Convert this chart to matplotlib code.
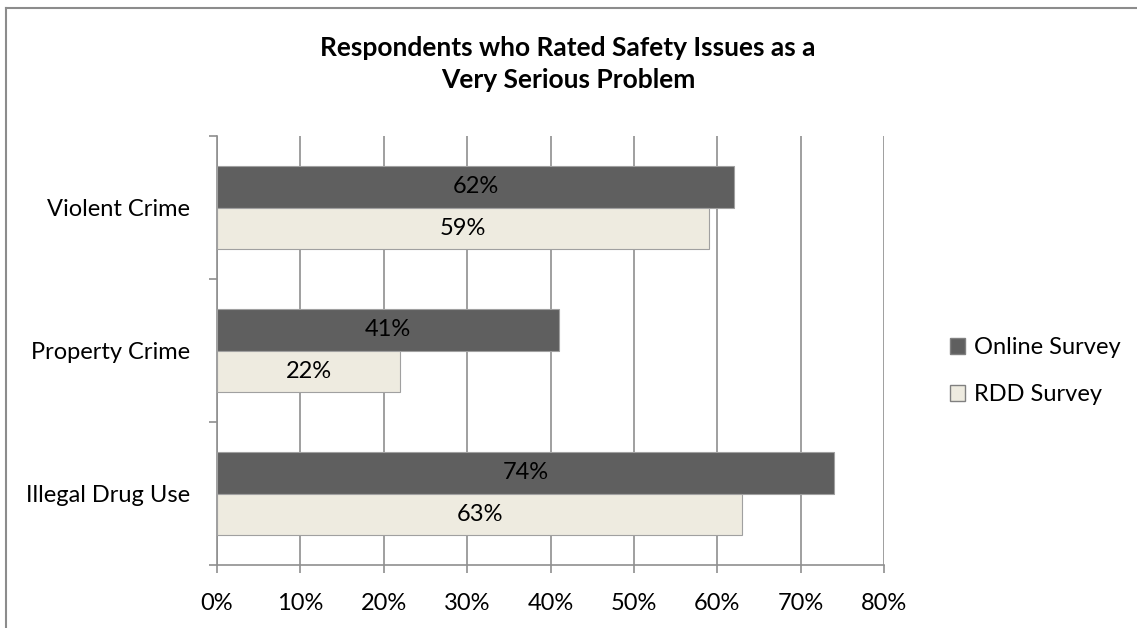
import matplotlib.pyplot as plt
import numpy as np
from matplotlib.patches import Patch

plt.rcParams['font.family'] = ['Lato', 'DejaVu Sans']

categories = ["Violent Crime", "Property Crime", "Illegal Drug Use"]
online = [62, 41, 74]
rdd = [59, 22, 63]
series_names = ["Online Survey", "RDD Survey"]
xticks = [0, 10, 20, 30, 40, 50, 60, 70, 80]

dark = "#5f5f5f"
light = "#eeebe0"
grid_gray = "#8f8f8f"
fs = 17

fig = plt.figure(figsize=(11.37, 6.28), dpi=100)
W, H = 1137, 628
ax = fig.add_axes([217 / W, 1 - 565 / H, (884 - 217) / W, (565 - 136) / H])

y = np.arange(len(categories))
bh = 0.287
ax.barh(y - bh / 2, online, height=bh, color=dark, edgecolor="#a0a0a0", linewidth=0.8, zorder=3)
ax.barh(y + bh / 2, rdd, height=bh, color=light, edgecolor="#a0a0a0", linewidth=0.8, zorder=3)

for i in range(len(categories)):
    ax.text(online[i] / 2, y[i] - bh / 2, f"{online[i]}%", ha="center", va="center",
            fontsize=fs, color="black", zorder=4)
    ax.text(rdd[i] / 2, y[i] + bh / 2, f"{rdd[i]}%", ha="center", va="center",
            fontsize=fs, color="black", zorder=4)

ax.set_xlim(0, 80)
ax.set_ylim(len(categories) - 0.5, -0.5)
ax.set_xticks(xticks)
ax.set_xticklabels([f"{t}%" for t in xticks], fontsize=fs)
ax.set_yticks(y)
ax.set_yticklabels(categories, fontsize=fs)
ax.set_yticks(np.arange(len(categories) + 1) - 0.5, minor=True)
ax.tick_params(axis="y", which="major", length=0, pad=19.5)
ax.tick_params(axis="y", which="minor", length=6, color=grid_gray, width=1.2)
ax.tick_params(axis="x", which="major", length=6, color=grid_gray, width=1.2, pad=14)

ax.grid(axis="x", color=grid_gray, linewidth=1.2, zorder=0)
for s in ["top", "right"]:
    ax.spines[s].set_visible(False)
for s in ["left", "bottom"]:
    ax.spines[s].set_color(grid_gray)
    ax.spines[s].set_linewidth(1.2)

fig.text(568 / W, 1 - 64 / H, "Respondents who Rated Safety Issues as a\nVery Serious Problem",
         ha="center", va="center", fontsize=19, fontweight="bold", linespacing=1.35)

handles = [Patch(facecolor=dark, edgecolor="#808080", label=series_names[0]),
           Patch(facecolor=light, edgecolor="#808080", label=series_names[1])]
fig.legend(handles=handles, loc="center left", bbox_to_anchor=(950 / W, 1 - 371 / H),
           frameon=False, fontsize=fs, handlelength=0.65, handleheight=0.65,
           handletextpad=0.35, labelspacing=1.1, borderpad=0, borderaxespad=0)

# outer chart frame
fig.add_artist(plt.Line2D([6 / W, 6 / W], [0, 1 - 8 / H], color="#8c8c8c", linewidth=1.5,
                          transform=fig.transFigure))
fig.add_artist(plt.Line2D([6 / W, 1], [1 - 8 / H, 1 - 8 / H], color="#8c8c8c", linewidth=1.5,
                          transform=fig.transFigure))

fig.savefig("out.png", dpi=100, facecolor="white")
